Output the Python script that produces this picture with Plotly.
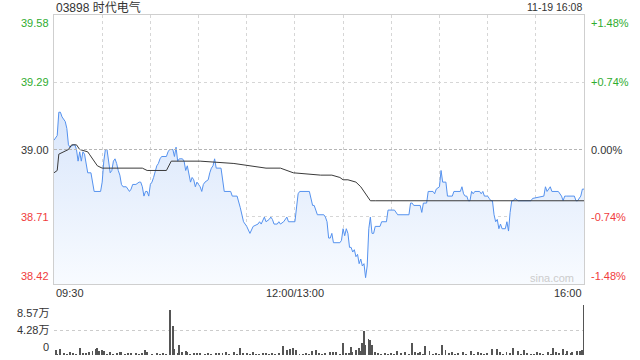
import plotly.graph_objects as go

# ---------------- data ----------------
stock_title = "03898 时代电气"
timestamp = "11-19 16:08"
prev_close = 39.00
pct_levels = [1.48, 0.74, 0.0, -0.74, -1.48]
time_tick_minutes = [0, 150, 330]          # trading-minute index (09:30 -> 0, 12:00/13:00 -> 150, 16:00 -> 330)
time_tick_labels = ["09:30", "12:00/13:00", "16:00"]
grid_minutes = [30, 60, 90, 120, 150, 180, 210, 240, 270, 300]

price_minute = [0, 2, 3, 4, 5, 6, 7, 8, 9, 10, 12, 13, 14, 15, 16, 17, 18, 19, 20, 21, 23, 24, 25, 29,
                30, 31, 32, 33, 34, 35, 36, 37, 38, 39, 40, 41, 42, 43, 45, 46, 47, 48, 49, 51, 53, 54,
                55, 56, 57, 58, 59, 60, 61, 62, 63, 64, 65, 66, 67, 70, 71, 72, 74, 75, 76, 77, 78, 79,
                80, 81, 82, 83, 84, 85, 86, 87, 88, 89, 90, 91, 92, 93, 94, 96, 97, 98, 99, 100, 101,
                104, 106, 110, 111, 114, 116, 118, 120, 122, 124, 127, 128, 129, 131, 132, 134, 135,
                136, 137, 139, 140, 141, 143, 145, 146, 150, 152, 153, 159, 161, 162, 163, 164, 168,
                169, 170, 171, 172, 173, 174, 178, 179, 180, 181, 182, 183, 184, 185, 186, 187, 188,
                189, 190, 191, 192, 193, 194, 195, 196, 197, 198, 199, 200, 203, 204, 207, 208, 212,
                214, 221, 222, 223, 224, 228, 229, 230, 232, 233, 236, 237, 238, 240, 241, 242, 244,
                245, 248, 249, 253, 254, 255, 256, 257, 258, 259, 260, 261, 262, 265, 266, 267, 268,
                270, 271, 272, 273, 274, 275, 276, 277, 278, 279, 281, 282, 283, 284, 285, 286, 287,
                289, 290, 297, 298, 305, 306, 307, 309, 310, 314, 315, 316, 317, 318, 319, 324, 325,
                326, 328, 329, 330]
price_value = [39.04, 39.06, 39.16, 39.16, 39.14, 39.13, 39.12, 39.09, 39.02, 39.01, 39.02, 39.02, 39.00,
               38.95, 38.99, 38.95, 38.99, 38.98, 38.93, 38.90, 38.90, 38.86, 38.82, 38.82,
               38.86, 38.95, 39.00, 39.00, 38.95, 38.90, 38.91, 38.95, 38.96, 38.94, 38.91, 38.89,
               38.85, 38.84, 38.84, 38.83, 38.82, 38.83, 38.85, 38.85, 38.86, 38.86,
               38.84, 38.80, 38.82, 38.82, 38.80, 38.85, 38.86, 38.88, 38.90, 38.93, 38.94, 38.96,
               38.97, 38.97, 38.99, 39.00, 39.00, 38.97, 39.01, 38.95, 38.96, 38.96,
               38.96, 38.95, 38.91, 38.93, 38.90, 38.86, 38.88, 38.87, 38.84, 38.86, 38.85, 38.84,
               38.82, 38.85, 38.86, 38.87, 38.90, 38.92, 38.93, 38.96, 38.92,
               38.92, 38.82, 38.82, 38.80, 38.80, 38.75, 38.69, 38.67, 38.64, 38.67, 38.68, 38.69,
               38.68, 38.71, 38.69, 38.70, 38.71,
               38.70, 38.68, 38.68, 38.69, 38.68, 38.69, 38.71, 38.69, 38.69, 38.81, 38.82, 38.82,
               38.76, 38.76, 38.74, 38.72, 38.72,
               38.71, 38.69, 38.62, 38.62, 38.64, 38.60, 38.60, 38.61, 38.66, 38.63, 38.66, 38.64,
               38.58, 38.58, 38.56, 38.57, 38.54,
               38.55, 38.51, 38.53, 38.50, 38.51, 38.45, 38.50, 38.66, 38.71, 38.64, 38.64, 38.67,
               38.67, 38.69, 38.69, 38.74, 38.74,
               38.72, 38.72, 38.77, 38.77, 38.76, 38.76, 38.73, 38.77, 38.77, 38.82, 38.82, 38.81,
               38.83, 38.84, 38.91, 38.86, 38.86,
               38.80, 38.80, 38.82, 38.82, 38.84, 38.81, 38.80, 38.80, 38.78, 38.78, 38.82, 38.81,
               38.82, 38.82, 38.81, 38.82, 38.80,
               38.80, 38.79, 38.78, 38.78, 38.72, 38.69, 38.70, 38.66, 38.68, 38.66, 38.66, 38.69,
               38.65, 38.73, 38.78, 38.78, 38.79,
               38.78, 38.78, 38.78, 38.79, 38.80, 38.84, 38.82, 38.84, 38.82, 38.82, 38.81, 38.80,
               38.78, 38.80, 38.80, 38.80, 38.78,
               38.78, 38.80, 38.83, 38.83]

avg_minute = [0, 2, 3, 6, 9, 11, 14, 16, 21, 22, 25, 27, 30, 39, 55, 58, 70, 73, 91, 112, 121, 132,
              141, 149, 166, 173, 178, 180, 183, 188, 191, 193, 195, 197, 200, 330]
avg_value = [38.90, 38.91, 38.98, 38.99, 39.00, 39.02, 39.02, 39.00, 38.99, 38.98, 38.95, 38.93, 38.92,
             38.92, 38.92, 38.91, 38.91, 38.95, 38.95, 38.94, 38.93, 38.92, 38.92, 38.90, 38.89,
             38.89, 38.88, 38.87, 38.87, 38.86, 38.84, 38.82, 38.80, 38.78, 38.78, 38.78]

vol_minute = [1, 4, 10, 16, 20, 22, 24, 26, 27, 28, 30, 31, 35, 41, 42, 51, 57, 58, 64, 72, 74, 75, 78,
              80, 82, 83, 87, 91, 101, 103, 107, 112, 116, 120, 124, 132, 143, 145, 147, 149, 151,
              161, 163, 172, 174, 176, 180, 182, 185, 186, 188, 190, 191, 192, 193, 194, 196, 197,
              198, 200, 202, 210, 214, 219, 223, 225, 228, 231, 234, 242, 244, 248, 255, 260, 264,
              273, 276, 278, 282, 286, 289, 293, 301, 308, 311, 313, 317, 320, 323, 326, 328, 329,
              330,
              2, 6, 8, 12, 14, 18, 33, 37, 39, 44, 46, 48, 53, 55, 61, 66, 68, 70, 77, 85, 89, 94, 96,
              98, 105, 109, 114, 118, 122, 126, 128, 130, 134, 136, 138, 140, 153, 155, 157, 159, 165,
              167, 169, 178, 184, 204, 206, 208, 212, 216, 221, 227, 230, 236, 238, 240, 246, 250,
              252, 257, 262, 266, 268, 270, 280, 284, 291, 295, 297, 299, 303, 305, 310, 315, 319,
              322, 325]
vol_shares = [9100, 10800, 5700, 11400, 3400, 5100, 6300, 10800, 12500, 6900, 8000, 6900, 4600, 5700,
              5700, 3400, 8000, 5100, 2300, 76600, 49200, 10800, 16600, 5100, 7400, 5700, 3400, 3400,
              3400, 2300, 4600, 4600, 12500, 3400, 5100, 3400, 14900, 8000, 9700, 12000, 8000, 6900,
              9100, 5700, 5100, 4600, 20000, 3400, 13700, 5100, 8000, 12000, 6300, 20600, 41100,
              16600, 26900, 25100, 16600, 5100, 3400, 3400, 6300, 5100, 20600, 5700, 5100, 15400,
              6300, 16600, 8000, 4600, 5100, 6300, 5700, 10800, 10800, 4600, 5100, 12000, 6300, 8000,
              5700, 5100, 11400, 5700, 9700, 6900, 5100, 6300, 6900, 8600, 85700,
              1700, 2300, 1500, 2000, 1200, 2600, 1700, 1500, 2300, 1200, 1900, 2500, 1500, 2000,
              1700, 1300, 2200, 1600, 1900, 1400, 2100, 1500, 1800, 1200, 2300, 1600, 1400, 1900,
              1200, 1700, 1500, 2000, 1300, 1800, 1500, 2200, 1700, 1400, 2000, 1500, 1800, 1300,
              2400, 1600, 2000, 1500, 1900, 1300, 1700, 2200, 1500, 1800, 1300, 1600, 2100, 1400,
              1800, 1500, 2000, 1700, 1300, 1900, 1600, 2200, 1500, 1800, 1400, 2000, 1600, 1300,
              1900, 1500, 1700, 2100, 1400, 1800]
vol_tick_values = [85700, 42850, 0]
vol_tick_labels = ["8.57万", "4.28万", "0"]

# ---------------- style ----------------
FONT = "Liberation Sans, Arial, Noto Sans CJK SC, sans-serif"
GREEN = "#2fac2f"
RED = "#f03c3c"
DARK = "#333333"
BLUE = "#5592ef"
GRID = "#d6d6d6"
BORDER = "#cfcfcf"
W, H = 640, 360
X0, X1 = 54, 584          # plot area left/right (px)
MAIN_T, MAIN_B = 15, 284  # main plot top/bottom (px)
VOL_T, VOL_B = 305, 355   # volume plot top/bottom (px)

def px(x):
    return x / W

def py(y):
    return 1 - y / H

price_ticks = [round(prev_close * (1 + p / 100), 4) for p in pct_levels]
y_max, y_min = price_ticks[0], price_ticks[-1]

fig = go.Figure()

fig.add_trace(go.Scatter(
    x=price_minute, y=price_value, mode="lines",
    line=dict(color=BLUE, width=1),
    fill="tozeroy",
    fillgradient=dict(type="vertical",
                      colorscale=[[0, "#f8fbff"], [1, "#d9e6fb"]],
                      start=y_min, stop=max(price_value)),
    hoverinfo="skip", xaxis="x", yaxis="y"))

fig.add_trace(go.Scatter(
    x=avg_minute, y=avg_value, mode="lines",
    line=dict(color="#3a3a3a", width=1),
    hoverinfo="skip", xaxis="x", yaxis="y"))

fig.add_trace(go.Bar(
    x=vol_minute, y=vol_shares, width=0.6,
    marker=dict(color="#555555", line=dict(width=0)),
    hoverinfo="skip", xaxis="x2", yaxis="y2"))

fig.update_layout(
    width=W, height=H,
    margin=dict(l=0, r=0, t=0, b=0),
    paper_bgcolor="white", plot_bgcolor="white",
    showlegend=False,
    bargap=0,
    font=dict(family=FONT, size=11, color=DARK),
    xaxis=dict(domain=[px(X0), px(X1)], range=[0, 330], anchor="y",
               tickvals=grid_minutes, showticklabels=False, ticks="",
               showgrid=True, gridcolor=GRID, griddash="dot", gridwidth=1,
               showline=True, mirror=True, linecolor=BORDER, linewidth=1,
               zeroline=False, fixedrange=True),
    yaxis=dict(domain=[py(MAIN_B), py(MAIN_T)], range=[y_min, y_max], anchor="x",
               tickvals=[price_ticks[1], price_ticks[3]], showticklabels=False, ticks="",
               showgrid=True, gridcolor=GRID, griddash="dot", gridwidth=1,
               showline=True, mirror=True, linecolor=BORDER, linewidth=1,
               zeroline=False, fixedrange=True),
    xaxis2=dict(domain=[px(X0), px(X1)], range=[0, 330.3], anchor="y2",
                showticklabels=False, ticks="", showgrid=False, showline=False,
                zeroline=False, fixedrange=True),
    yaxis2=dict(domain=[py(VOL_B), py(VOL_T)], range=[0, vol_tick_values[0]], anchor="x2",
                tickvals=vol_tick_values[:2], showticklabels=False, ticks="",
                showgrid=True, gridcolor="#cccccc", griddash="dot", gridwidth=1,
                showline=False, zeroline=False, fixedrange=True),
)

# previous-close dashed line
fig.add_shape(type="line", xref="x domain", x0=0, x1=1, yref="y", y0=prev_close, y1=prev_close,
              line=dict(color="#b5b5b5", width=1, dash="3px,2px"))

ann = []
# title / timestamp
ann.append(dict(text=stock_title, x=px(X0), y=py(7), xref="paper", yref="paper",
                xanchor="left", yanchor="middle", showarrow=False,
                font=dict(size=12, color=DARK)))
ann.append(dict(text=timestamp, x=px(X1), y=py(7), xref="paper", yref="paper",
                xanchor="right", yanchor="middle", showarrow=False,
                font=dict(size=10.5, color=DARK)))

# price & percent labels
for i, (p, v) in enumerate(zip(pct_levels, price_ticks)):
    col = GREEN if p > 0 else (RED if p < 0 else DARK)
    ya = "top" if i == 0 else ("bottom" if i == len(pct_levels) - 1 else "middle")
    ptxt = "0.00%" if p == 0 else f"{p:+.2f}%"
    ann.append(dict(text=f"{v:.2f}", x=px(X0 - 3), y=v, xref="paper", yref="y",
                    xanchor="right", yanchor=ya, showarrow=False,
                    font=dict(size=11, color=col)))
    ann.append(dict(text=ptxt, x=px(X1 + 5), y=v, xref="paper", yref="y",
                    xanchor="left", yanchor=ya, showarrow=False,
                    font=dict(size=11, color=col)))

# time labels
for i, (m, lab) in enumerate(zip(time_tick_minutes, time_tick_labels)):
    xa = "left" if i == 0 else ("right" if i == len(time_tick_labels) - 1 else "center")
    ann.append(dict(text=lab, x=m, y=py(293), xref="x", yref="paper",
                    xanchor=xa, yanchor="middle", showarrow=False,
                    font=dict(size=11, color=DARK)))

# volume labels
for i, (v, lab) in enumerate(zip(vol_tick_values, vol_tick_labels)):
    ya = "top" if i == 0 else ("bottom" if i == len(vol_tick_values) - 1 else "middle")
    ann.append(dict(text=lab, x=px(X0 - 3), y=v, xref="paper", yref="y2",
                    xanchor="right", yanchor=ya, showarrow=False,
                    font=dict(size=11, color=DARK)))

# watermark
ann.append(dict(text="sina.com", x=px(552), y=py(278), xref="paper", yref="paper",
                xanchor="center", yanchor="middle", showarrow=False,
                font=dict(size=11, color="#cccccc")))

fig.update_layout(annotations=ann)
fig.write_html("out.html")
